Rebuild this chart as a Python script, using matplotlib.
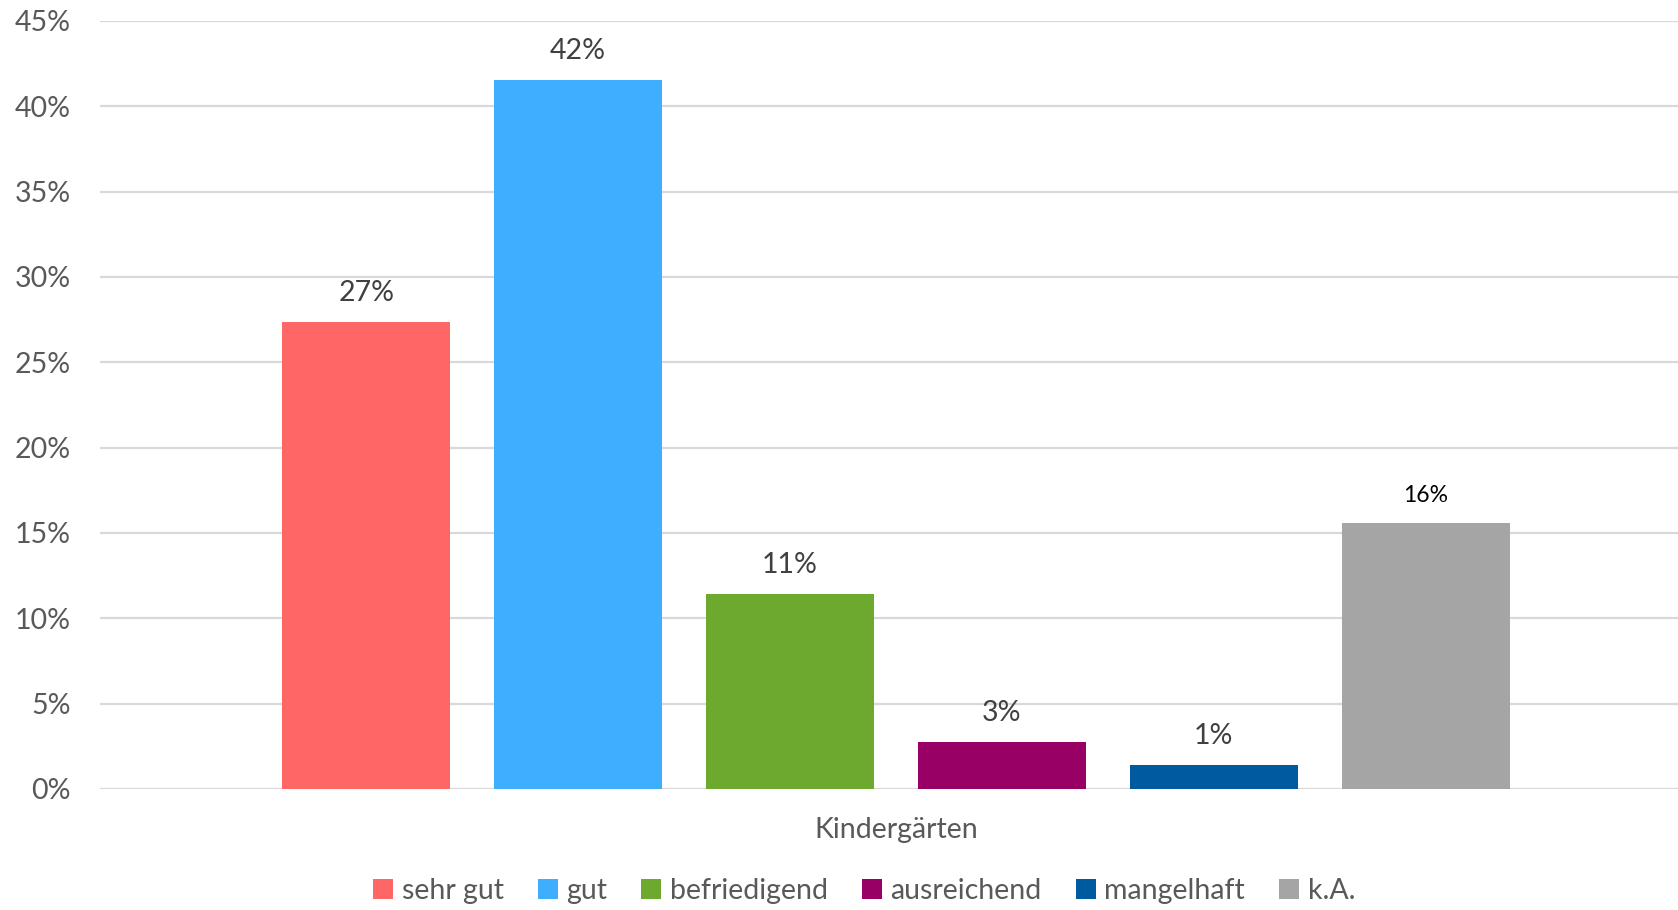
import numpy as np
from matplotlib import pyplot as plt
from matplotlib.ticker import PercentFormatter

plt.rcParams['font.family'] = ['Lato', 'DejaVu Sans']

categories = ['sehr gut', 'gut', 'befriedigend', 'ausreichend', 'mangelhaft', 'k.A.']
values = [0.2736, 0.4155, 0.1142, 0.0276, 0.0138, 0.1556]
labels = ['27%', '42%', '11%', '3%', '1%', '16%']
colors = ['#FF6666', '#3FAEFF', '#6EA92F', '#990066', '#005AA0', '#A5A5A5']
group = 'Kindergärten'

slot = 0.1343  # spacing between bar centres
width = 0.1064

fig = plt.figure(figsize=(16.78, 9.1), dpi=100)
ax = fig.add_axes([0.0596, 0.133, 0.9404, 0.844])

for i, (cat, v, lab, c) in enumerate(zip(categories, values, labels, colors)):
    x = (i - 2.5) * slot
    ax.bar(x, v, width=width, color=c, label=cat, zorder=3)
    if cat == 'k.A.':
        ax.text(x, v + 0.010, lab, ha='center', va='bottom', fontsize=16.5, color='black')
    else:
        ax.text(x, v + 0.0095, lab, ha='center', va='bottom', fontsize=20.5, color='#404040')

ax.set_xlim(-0.5044, 0.4956)
ax.set_ylim(0, 0.45)
ax.set_yticks(np.arange(0, 0.451, 0.05))
ax.yaxis.set_major_formatter(PercentFormatter(1.0, decimals=0))
ax.set_xticks([0])
ax.set_xticklabels([group])
ax.tick_params(axis='both', length=0, labelsize=20.5, colors='#595959')
ax.tick_params(axis='y', pad=21)
ax.tick_params(axis='x', pad=20)
ax.grid(axis='y', color='#D9D9D9', linewidth=1.6, zorder=0)
for s in ax.spines.values():
    s.set_visible(False)

fig.legend(loc='center', bbox_to_anchor=(0.515, 0.021), ncol=6, frameon=False,
           fontsize=20.5, labelcolor='#595959', handlelength=0.7, handleheight=0.7,
           handletextpad=0.3, columnspacing=1.2)

fig.savefig('out.png', dpi=100)
